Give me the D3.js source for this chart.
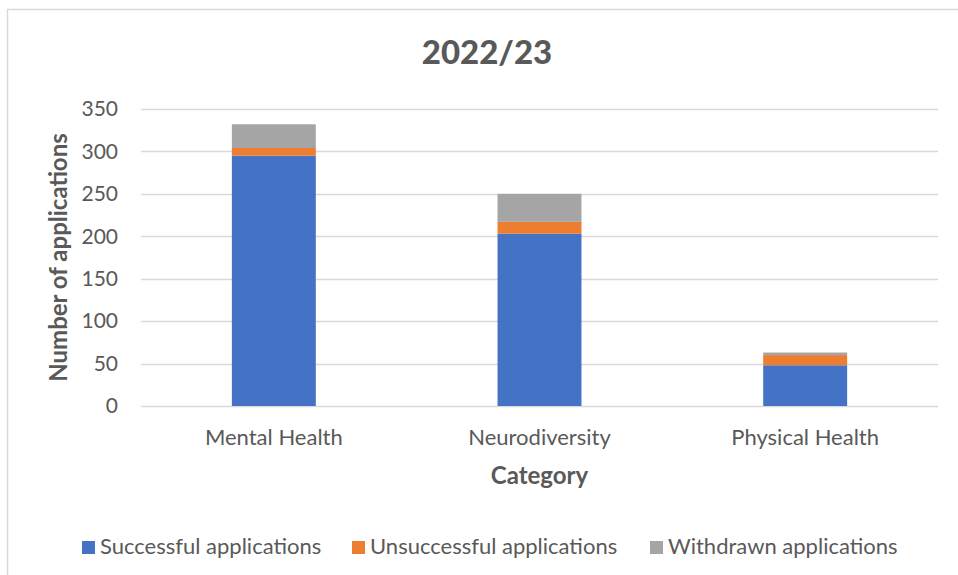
<!DOCTYPE html>
<html>
<head>
<meta charset="utf-8">
<script src="https://cdn.jsdelivr.net/npm/d3@7"></script>
<style>
  body { margin: 0; background: #fff; }
  text { font-family: Lato, "Open Sans", sans-serif; fill: #595959; }
</style>
</head>
<body>
<div id="chart"></div>
<script>
// Data
var categories = ["Mental Health", "Neurodiversity", "Physical Health"];
var successful = [295, 203, 48];
var unsuccessful = [9, 14, 12];
var withdrawn = [28, 33, 3];
var seriesNames = ["Successful applications", "Unsuccessful applications", "Withdrawn applications"];
var seriesColors = ["#4472C4", "#ED7D31", "#A5A5A5"];
var yTicks = [0, 50, 100, 150, 200, 250, 300, 350];

var w = 958;
var h = 575;
var margin = {top: 109, right: 20, bottom: 169, left: 141};

var svg = d3.select("#chart")
    .append("svg")
    .attr("width", w)
    .attr("height", h);

//Chart border (runs off the right and bottom of the picture)
svg.append("rect")
  .attr("x", 7.5)
  .attr("y", 9.5)
  .attr("width", 970)
  .attr("height", 600)
  .attr("fill", "none")
  .attr("stroke", "#d9d9d9")
  .attr("stroke-width", 1.5);

var x = d3.scaleBand()
    .domain(categories)
    .range([margin.left, w - margin.right])
    .paddingInner(0.684)
    .paddingOuter(0.342);

var y = d3.scaleLinear()
    .domain([0, 350])
    .range([h - margin.bottom, margin.top]);

//Gridlines
svg.selectAll("line.grid")
  .data(yTicks)
  .enter()
  .append("line")
  .attr("class", "grid")
  .attr("x1", margin.left)
  .attr("x2", w - margin.right)
  .attr("y1", function(d) { return Math.round(y(d)) + 0.5; })
  .attr("y2", function(d) { return Math.round(y(d)) + 0.5; })
  .attr("stroke", "#d9d9d9")
  .attr("stroke-width", 1.5);

//Stack the series
var rows = categories.map(function(c, i) {
  return {category: c, s0: successful[i], s1: unsuccessful[i], s2: withdrawn[i]};
});
var stack = d3.stack().keys(["s0", "s1", "s2"]);
var layers = stack(rows);

svg.selectAll("g.layer")
  .data(layers)
  .enter()
  .append("g")
  .attr("class", "layer")
  .attr("fill", function(d, i) { return seriesColors[i]; })
  .selectAll("rect")
  .data(function(d) { return d; })
  .enter()
  .append("rect")
  .attr("x", function(d) { return x(d.data.category); })
  .attr("y", function(d) { return y(d[1]); })
  .attr("width", x.bandwidth())
  .attr("height", function(d) { return y(d[0]) - y(d[1]); });

//Y axis labels
var yAxis = d3.axisLeft(y).tickValues(yTicks).tickSize(0).tickPadding(23);
var gy = svg.append("g")
  .attr("transform", "translate(" + margin.left + ",0)")
  .call(yAxis);
gy.select(".domain").remove();
gy.selectAll("text")
  .style("font-family", "Lato, sans-serif")
  .style("font-size", "21px")
  .attr("fill", "#595959");

//X axis labels
var xAxis = d3.axisBottom(x).tickSize(0).tickPadding(23);
var gx = svg.append("g")
  .attr("transform", "translate(0," + (h - margin.bottom) + ")")
  .call(xAxis);
gx.select(".domain").remove();
gx.selectAll("text")
  .style("font-family", "Lato, sans-serif")
  .style("font-size", "22px")
  .attr("fill", "#595959");

//Title
svg.append("text")
  .attr("x", 487)
  .attr("y", 64)
  .attr("text-anchor", "middle")
  .style("font-size", "33px")
  .style("font-weight", "900")
  .text("2022/23");

//Axis titles
svg.append("text")
  .attr("x", (margin.left + w - margin.right) / 2)
  .attr("y", 484)
  .attr("text-anchor", "middle")
  .style("font-size", "24px")
  .style("font-weight", "bold")
  .text("Category");

svg.append("text")
  .attr("transform", "translate(67," + ((margin.top + h - margin.bottom) / 2) + ") rotate(-90)")
  .attr("text-anchor", "middle")
  .style("font-size", "24px")
  .style("font-weight", "bold")
  .text("Number of applications");

//Legend
var legendX = [82, 352, 650];
var legend = svg.selectAll("g.legend")
  .data(seriesNames)
  .enter()
  .append("g")
  .attr("class", "legend")
  .attr("transform", function(d, i) { return "translate(" + legendX[i] + ",547)"; });

legend.append("rect")
  .attr("x", 0)
  .attr("y", -6)
  .attr("width", 13)
  .attr("height", 13)
  .attr("fill", function(d, i) { return seriesColors[i]; });

legend.append("text")
  .attr("x", 18)
  .attr("y", 7)
  .style("font-size", "22px")
  .text(function(d) { return d; });
</script>
</body>
</html>
